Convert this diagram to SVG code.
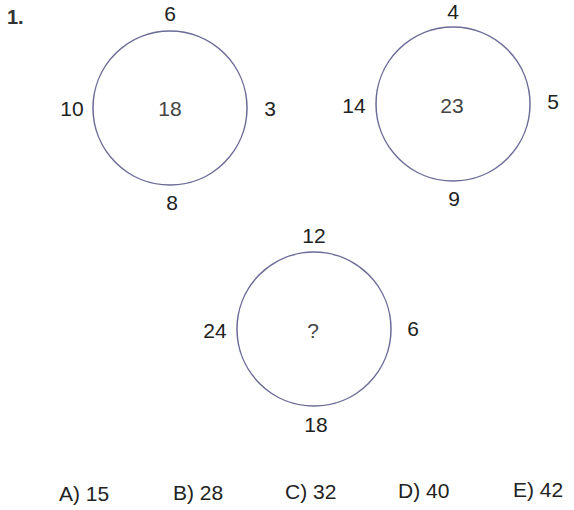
<svg xmlns="http://www.w3.org/2000/svg" width="574" height="510" viewBox="0 0 574 510">
<style>
.c{fill:none;stroke:#6b6b98;stroke-width:1.5}
.t{font-family:"Liberation Sans",Arial,sans-serif;font-size:21px;fill:#222;text-anchor:middle}
.m{fill:#444}
.a{font-family:"Liberation Sans",Arial,sans-serif;font-size:21px;fill:#222}
</style>
<rect width="574" height="510" fill="#fff"/>
<text x="7" y="24" style="font-family:'Liberation Sans',Arial,sans-serif;font-size:20px;font-weight:bold;fill:#333">1.</text>
<g id="circle1">
<circle class="c" cx="170" cy="108" r="77"/>
<text class="t" x="170" y="21">6</text>
<text class="t" x="72" y="116">10</text>
<text class="t m" x="170" y="116">18</text>
<text class="t" x="270" y="116">3</text>
<text class="t" x="172" y="210">8</text>
</g>
<g id="circle2">
<circle class="c" cx="453" cy="104" r="77"/>
<text class="t" x="453" y="19">4</text>
<text class="t" x="354" y="113">14</text>
<text class="t m" x="452" y="113">23</text>
<text class="t" x="553" y="109">5</text>
<text class="t" x="454" y="206">9</text>
</g>
<g id="circle3">
<circle class="c" cx="314" cy="329" r="77"/>
<text class="t" x="314" y="243">12</text>
<text class="t" x="215" y="338">24</text>
<text class="t m" x="313" y="338">?</text>
<text class="t" x="413" y="336">6</text>
<text class="t" x="316" y="432">18</text>
</g>
<g id="connectors"></g>
<g id="answers">
<text class="a" x="59" y="501">A) 15</text>
<text class="a" x="173" y="500">B) 28</text>
<text class="a" x="285" y="499">C) 32</text>
<text class="a" x="398" y="498">D) 40</text>
<text class="a" x="513" y="497">E) 42</text>
</g>
</svg>
